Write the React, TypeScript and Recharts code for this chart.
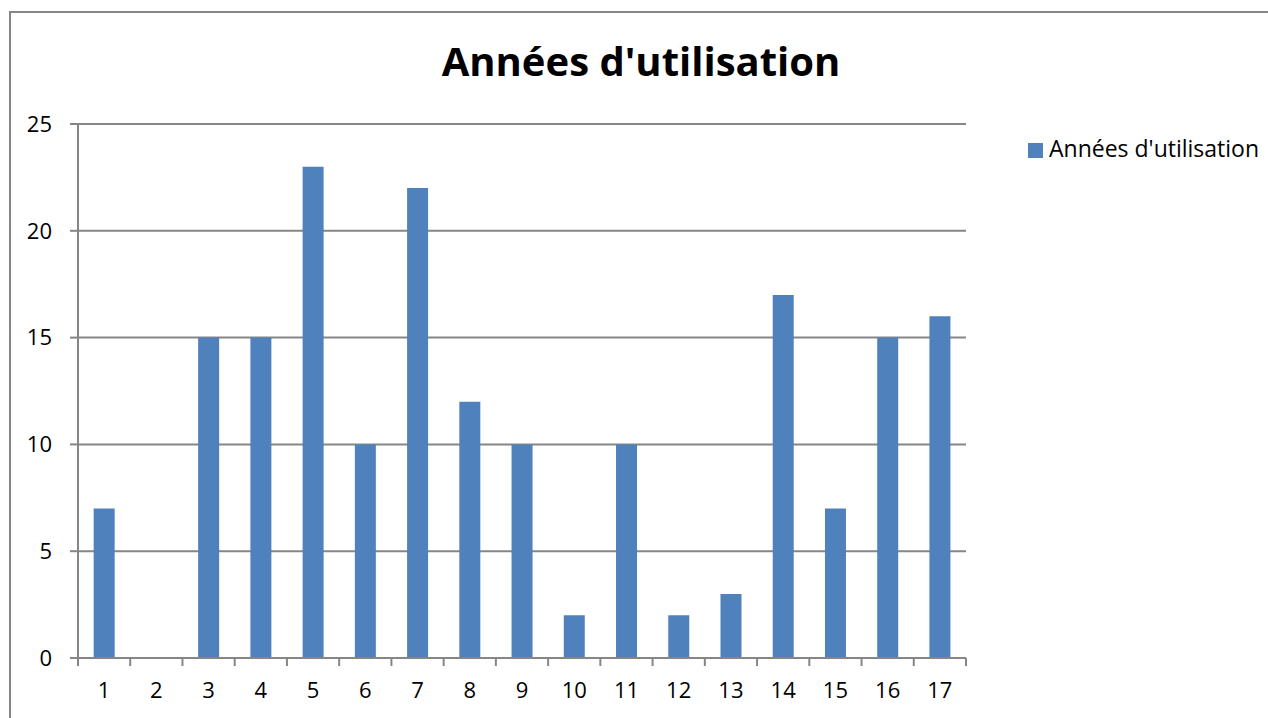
import { Bar, BarChart, CartesianGrid, Legend, XAxis, YAxis } from "recharts";

const categories = ["1", "2", "3", "4", "5", "6", "7", "8", "9", "10", "11", "12", "13", "14", "15", "16", "17"];
const years = [7, 0, 15, 15, 23, 10, 22, 12, 10, 2, 10, 2, 3, 17, 7, 15, 16];
const yTicks = [0, 5, 10, 15, 20, 25];

const seriesName = "Années d'utilisation";
const font = "'Open Sans', sans-serif";
const gray = "#868686";

const data = categories.map((c, i) => ({ cat: c, value: years[i] }));

function XTick(props: any) {
  const { x, y, payload, index } = props;
  const half = payload?.offset ?? 26.1;
  const last = index === categories.length - 1;
  return (
    <g>
      <line x1={x - half} y1={y} x2={x - half} y2={y + 8} stroke={gray} strokeWidth={2} />
      {last && <line x1={x + half} y1={y} x2={x + half} y2={y + 8} stroke={gray} strokeWidth={2} />}
      <text x={x} y={y + 40} textAnchor="middle" fontSize={22} fontFamily={font} fill="#000">
        {payload.value}
      </text>
    </g>
  );
}

export default function App() {
  return (
    <div style={{ position: "absolute", left: 0, top: 0, width: 1268, height: 718, overflow: "hidden", background: "#fff" }}>
      <div
        style={{
          position: "absolute",
          left: 9,
          top: 11,
          width: 1300,
          height: 800,
          border: `2px solid ${gray}`,
          boxSizing: "border-box"
        }}
      />
      <div
        style={{
          position: "absolute",
          left: 0,
          width: 1282,
          top: 33,
          textAlign: "center",
          fontFamily: font,
          fontWeight: 700,
          fontSize: 40,
          color: "#000"
        }}
      >
        {seriesName}
      </div>
      <div style={{ position: "absolute", left: 0, top: 0 }}>
        <BarChart
          width={1268}
          height={718}
          data={data}
          margin={{ top: 124, left: 18, right: 62, bottom: 0 }}
          barCategoryGap="30%"
        >
          <CartesianGrid vertical={false} stroke={gray} strokeWidth={2} />
          <XAxis
            dataKey="cat"
            axisLine={{ stroke: gray, strokeWidth: 2 }}
            tickLine={false}
            tickSize={0}
            tickMargin={0}
            tick={<XTick />}
            interval={0}
            height={60}
          />
          <YAxis
            width={60}
            domain={[0, 25]}
            ticks={yTicks}
            axisLine={{ stroke: gray, strokeWidth: 2 }}
            tickLine={{ stroke: gray, strokeWidth: 2 }}
            tickSize={8}
            tickMargin={18}
            tick={{ fontSize: 22, fontFamily: font, fill: "#000" }}
          />
          <Legend
            layout="vertical"
            align="right"
            verticalAlign="top"
            iconType="square"
            iconSize={15}
            wrapperStyle={{
              left: 1028,
              top: 132,
              width: 240,
              fontFamily: font,
              fontSize: 23,
              whiteSpace: "nowrap"
            }}
            formatter={(v) => (
              <span style={{ color: "#000", marginLeft: 2, whiteSpace: "nowrap" }}>{v}</span>
            )}
          />
          <Bar dataKey="value" name={seriesName} fill="#4F81BD" isAnimationActive={false} />
        </BarChart>
      </div>
    </div>
  );
}
